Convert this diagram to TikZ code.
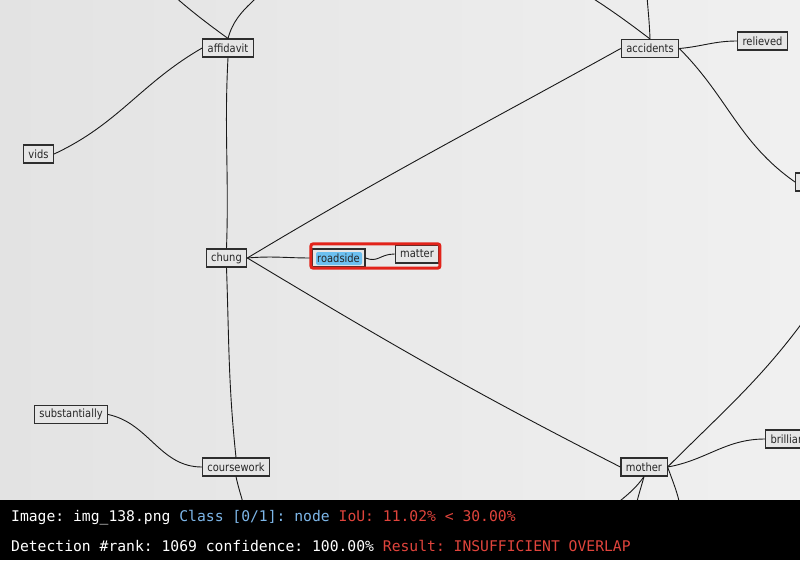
\documentclass[tikz,border=0pt]{standalone}
\usepackage{fontspec}
\usepackage{xcolor}
\usepackage{tikz}
\usetikzlibrary{calc,fit}
\newfontfamily\gfont[FakeStretch=0.87]{DejaVu Sans}
\newfontfamily\gmono{DejaVu Sans Mono}
\frenchspacing
\definecolor{gpaper}{HTML}{E3E3E3}
\definecolor{gpaperlt}{HTML}{F0F0F0}
\definecolor{gbox}{HTML}{E6E6E6}
\definecolor{gink}{HTML}{2E2E2E}
\definecolor{gsky}{HTML}{6CC0F0}
\definecolor{ghit}{HTML}{E2231A}
\definecolor{gtblue}{HTML}{7DB6E8}
\definecolor{gtred}{HTML}{E0443C}
\tikzset{
  gnode/.style={draw=gink, fill=gbox, line width=1.1pt, inner xsep=5pt, inner ysep=0pt,
                minimum height=18pt, text=black!85, font=\gfont\fontsize{11.4}{12}\selectfont},
  gedge/.style={draw=black!90, line width=0.9pt},
  gsel/.style={gnode, minimum width=53pt, inner xsep=0pt, path picture={
      \fill[gsky, rounded corners=2pt]
        ($(path picture bounding box.south west)+(4pt,2pt)$) rectangle
        ($(path picture bounding box.north east)+(-3pt,-3pt)$);}},
  ghitbox/.style={draw=ghit, line width=3pt, rounded corners=2pt, inner sep=0.5pt},
  gbar/.style={anchor=base west, inner sep=0pt, text=white,
               font=\gmono\fontsize{14.7}{16}\selectfont},
}

\begin{document}
\begin{tikzpicture}[x=1pt,y=-1pt]

  \useasboundingbox (0,0) rectangle (800,560);
  \clip (0,0) rectangle (800,560);

  % papel amassado
  \shade[left color=gpaper, right color=gpaperlt] (0,0) rectangle (800,500);

  % nos
  \node[gnode] (affidavit) at (228,48) {affidavit};
  \node[gnode] (accidents) at (650,48.5) {accidents};
  \node[gnode] (relieved) at (762.5,41) {relieved};
  \node[gnode] (vids) at (38.5,154) {vids};
  \node[gnode] (chung) at (226.5,258) {chung};
  \node[gsel] (roadside) at (338.5,258) {roadside};
  \node[gnode] (matter) at (417,254) {matter};
  \node[gnode] (substantially) at (71,414.5) {substantially};
  \node[gnode] (coursework) at (236,467) {coursework};
  \node[gnode] (mother) at (644,467) {mother};
  \node[gnode, anchor=west] (brilliant) at (765,439) {brilliant};
  \node[gnode, anchor=west, minimum width=60pt] (rnode) at (795,182) {};

  % pontas fora do quadro
  \coordinate (up1) at (146,-30);
  \coordinate (up2) at (280,-30);
  \coordinate (up3) at (545,-30);
  \coordinate (up4) at (646,-30);
  \coordinate (up5) at (815,305);
  \coordinate (dn1) at (600,520);
  \coordinate (dn2) at (634,520);
  \coordinate (dn3) at (682,520);
  \coordinate (dn4) at (247,520);

  % arestas
  \draw[gedge] (affidavit.north) to[bend left=4] (up1);
  \draw[gedge] (affidavit.north) to[out=75,in=-120] (up2);
  \draw[gedge] (vids.east) to[out=25,in=-150] (affidavit.west);
  \draw[gedge] (affidavit.south) to[out=-93,in=88] (chung.north);
  \draw[gedge] (chung.south) to[out=-88,in=96] (coursework.north);
  \draw[gedge] (coursework.south) to[out=-78,in=100] (dn4);
  \draw[gedge] (substantially.east) to[out=-12,in=180] (coursework.west);
  \draw[gedge] (chung.east) to[out=31,in=-151] (accidents.west);
  \draw[gedge] (chung.east) to[out=5,in=180] (roadside.west);
  \draw[gedge] (chung.east) to[out=-31,in=153] (mother.west);
  \draw[gedge] (roadside.east) .. controls (378,263) and (380,254) .. (matter.west);
  \draw[gedge] (accidents.north) to[bend right=4] (up3);
  \draw[gedge] (accidents.north) to[out=92,in=-90] (up4);
  \draw[gedge] (accidents.east) to[out=5,in=180] (relieved.west);
  \draw[gedge] (accidents.east) to[out=-45,in=145] (rnode.west);
  \draw[gedge] (mother.east) to[out=10,in=180] (brilliant.west);
  \draw[gedge] (mother.east) to[out=45,in=-125] (up5);
  \draw[gedge] (mother.south) to[out=-125,in=50] (dn1);
  \draw[gedge] (mother.south) to[out=-105,in=85] (dn2);
  \draw[gedge] (mother.east) to[out=-70,in=95] (dn3);

  % caixa da deteccao
  \node[ghitbox, fit=(roadside)(matter)] (hit) {};

  % faixa de resultado
  \fill[black] (0,500) rectangle (800,560);
  \node[gbar] (info1) at (11,521) {Image: img\_138.png \textcolor{gtblue}{Class [0/1]: node} \textcolor{gtred}{IoU: 11.02\% < 30.00\%}};
  \node[gbar] (info2) at (11,551) {Detection \#rank: 1069 confidence: 100.00\% \textcolor{gtred}{Result: INSUFFICIENT OVERLAP}};

\end{tikzpicture}
\end{document}
